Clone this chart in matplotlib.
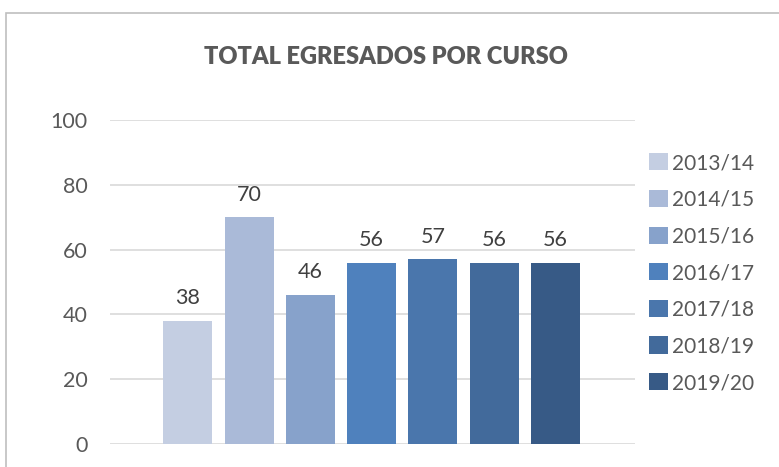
import matplotlib
matplotlib.use("Agg")
import matplotlib.pyplot as plt
from matplotlib.patches import Rectangle, Patch

# ---------------------------------------------------------------------------
# Data
# ---------------------------------------------------------------------------
cursos = ["2013/14", "2014/15", "2015/16", "2016/17", "2017/18", "2018/19", "2019/20"]
egresados = [38, 70, 46, 56, 57, 56, 56]
colores = ["#C4CEE2", "#AABAD8", "#87A2CB", "#4F81BD", "#4A76AC", "#426A9B", "#375A86"]
y_ticks = [0, 20, 40, 60, 80, 100]

FONT = ["Lato", "DejaVu Sans"]
GRID = "#D9D9D9"
TICK_GREY = "#595959"
LABEL_GREY = "#404040"

plt.rcParams["font.family"] = FONT

fig = plt.figure(figsize=(7.79, 4.67), dpi=100)
fig.patch.set_facecolor("white")

# chart frame (runs off the right and bottom edges)
frame = Rectangle((6 / 779, -0.05), 1.0, (467 - 13) / 467 + 0.05,
                  transform=fig.transFigure, facecolor="none",
                  edgecolor="#BFBFBF", linewidth=1.2)
fig.patches.append(frame)

ax = fig.add_axes([110 / 779, 23 / 467, 525 / 779, 324 / 467])
ax.set_facecolor("white")

x = list(range(len(cursos)))
bars = ax.bar(x, egresados, width=0.8, color=colores, zorder=3)

for xi, v in zip(x, egresados):
    ax.annotate(f"{v}", (xi, v), xytext=(0, 9), textcoords="offset points",
                ha="center", va="bottom", fontsize=15.5, color=LABEL_GREY)

ax.set_ylim(0, 100)
ax.set_xlim(-1.27, 7.3)
ax.set_yticks(y_ticks)
ax.set_yticklabels([str(t) for t in y_ticks], fontsize=15.5, color=TICK_GREY)
ax.set_xticks([])
ax.tick_params(axis="y", length=0, pad=16)
ax.yaxis.grid(True, color=GRID, linewidth=1.2, zorder=0)
for s in ax.spines.values():
    s.set_visible(False)

fig.text(386 / 779, 1 - 57 / 467, "TOTAL EGRESADOS POR CURSO",
         ha="center", va="center", fontsize=17, fontweight="heavy",
         color=TICK_GREY)

handles = [Patch(facecolor=c, edgecolor="none") for c in colores]
leg = fig.legend(handles, cursos, loc="upper left",
                 bbox_to_anchor=(649 / 779, 1 - 153 / 467),
                 frameon=False, fontsize=15, labelcolor=TICK_GREY,
                 handlelength=0.9, handleheight=0.9, handletextpad=0.2,
                 labelspacing=0.8, borderaxespad=0, borderpad=0)

fig.savefig("out.png", dpi=100, facecolor="white")
